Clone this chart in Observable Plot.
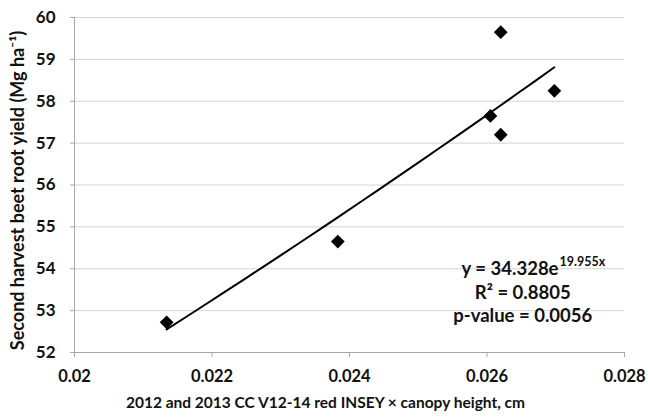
<!DOCTYPE html>
<html>
<head>
<meta charset="utf-8">
<script src="https://cdn.jsdelivr.net/npm/d3@7"></script>
<script src="https://cdn.jsdelivr.net/npm/@observablehq/plot@0.6"></script>
<style>
  html, body { margin: 0; padding: 0; background: #fff; }
  #chart { width: 648px; height: 417px; }
</style>
</head>
<body>
<div id="chart"></div>
<script>
// Data
const insey = [0.02134, 0.02383, 0.02605, 0.02620, 0.02620, 0.02698];
const yieldMg = [52.72, 54.65, 57.65, 57.20, 59.65, 58.25];

// Fitted exponential trend shown on the chart: y = 34.328 e^(19.955x)
const fitA = 34.328;
const fitB = 19.955;
const fitLabel = "y = 34.328e";
const fitExpLabel = "19.955x";
const r2Label = "R² = 0.8805";
const pLabel = "p-value = 0.0056";

const xTicks = [0.02, 0.022, 0.024, 0.026, 0.028];
const xTickLabels = ["0.02", "0.022", "0.024", "0.026", "0.028"];
const yTicks = [52, 53, 54, 55, 56, 57, 58, 59, 60];

const xTitle = "2012 and 2013 CC V12-14 red INSEY \u00D7 canopy height, cm";
const yTitle = "Second harvest beet root yield (Mg ha\u207B\u00B9)";

const points = insey.map((x, i) => ({x, y: yieldMg[i]}));

// trend curve from the displayed equation over the data's x range
const xMin = d3.min(insey), xMax = d3.max(insey);
const trend = d3.range(0, 21).map(i => {
  const x = xMin + (xMax - xMin) * i / 20;
  return {x, y: fitA * Math.exp(fitB * x)};
});

const font = "Lato, 'Open Sans', 'Liberation Sans', sans-serif";

const chart = Plot.plot({
  width: 648,
  height: 417,
  marginLeft: 74,
  marginRight: 24,
  marginTop: 17,
  marginBottom: 65,
  style: {fontFamily: font, fontSize: "16px", fontWeight: "bold", color: "#111", background: "#fff"},
  x: {domain: [0.02, 0.028], ticks: xTicks},
  y: {domain: [52, 60], ticks: yTicks},
  marks: [
    Plot.gridY(yTicks, {stroke: "#d4d4d4", strokeOpacity: 1, strokeWidth: 1}),
    Plot.ruleX([0.02], {stroke: "#a6a6a6", strokeWidth: 1}),
    Plot.ruleY([52], {stroke: "#a6a6a6", strokeWidth: 1}),
    Plot.axisY({
      ticks: yTicks, tickSize: 4, tickPadding: 15, stroke: "#a6a6a6",
      fontSize: 17, label: null, tickFormat: d => String(d)
    }),
    Plot.axisX({
      ticks: xTicks, tickSize: 5, tickPadding: 13, stroke: "#a6a6a6",
      fontSize: 16.5, tickFormat: (d, i) => xTickLabels[i], label: null
    }),
    Plot.text([yTitle], {frameAnchor: "left", textAnchor: "middle", lineAnchor: "middle", rotate: -90, dx: -56, dy: 5.5, text: d => d, fontSize: 18, fontWeight: "bold", fill: "#111"}),
    Plot.text([xTitle], {frameAnchor: "bottom", textAnchor: "middle", dx: -24, dy: 55, text: d => d, fontSize: 15.5, fontWeight: "bold", fill: "#111"}),
    Plot.line(trend, {x: "x", y: "y", stroke: "#000", strokeWidth: 2}),
    Plot.dot(points, {x: "x", y: "y", symbol: "diamond2", r: 6.2, fill: "#000", stroke: "none"}),
    Plot.text([fitLabel], {x: 0.02704, y: 54.0, text: d => d, textAnchor: "end", fontSize: 18.5, fontWeight: "bold", fill: "#111"}),
    Plot.text([fitExpLabel], {x: 0.02704, y: 54.0, text: d => d, textAnchor: "start", dx: 1, dy: -7, fontSize: 12.5, fontWeight: "bold", fill: "#111"}),
    Plot.text([r2Label], {x: 0.02652, y: 53.43, text: d => d, fontSize: 18.5, fontWeight: "bold", fill: "#111"}),
    Plot.text([pLabel], {x: 0.02652, y: 52.86, text: d => d, fontSize: 18.5, fontWeight: "bold", fill: "#111"})
  ]
});

document.getElementById("chart").appendChild(chart);
</script>
</body>
</html>
